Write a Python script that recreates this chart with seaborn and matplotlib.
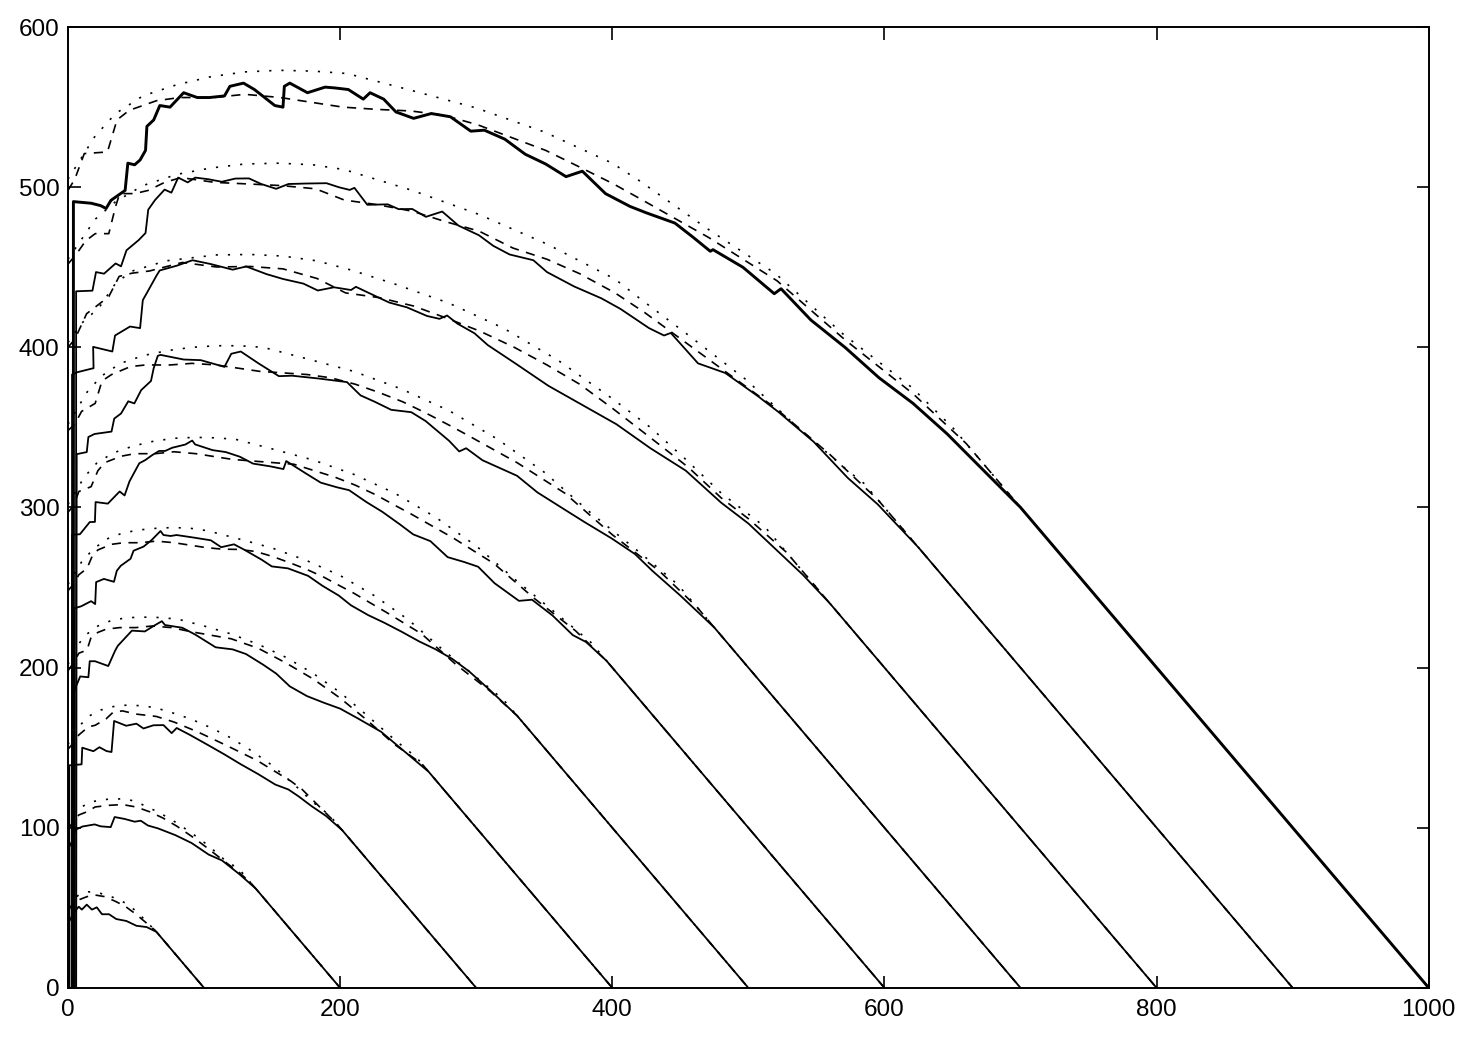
import matplotlib
matplotlib.use("Agg")
import matplotlib.pyplot as plt
import seaborn as sns
import pandas as pd

sns.set_style("ticks")
plt.rcParams["font.family"] = ["Liberation Sans", "DejaVu Sans"]

# ---------------- data ----------------
# N = 1000
dot1000_x = [0, 20, 35, 55, 80, 105, 130, 155, 180, 205, 250, 300, 350, 400, 420, 470, 520, 570, 620, 650, 1000]
dot1000_y = [505, 532, 546, 557, 564, 569, 572, 573, 572.5, 571, 561, 549.5, 534.5, 515, 504, 474, 446, 408, 375, 350, 0]
dash1000_x = [0, 5, 12, 29, 36, 45, 65, 82, 107, 130, 156, 202, 227, 252, 276, 301, 326, 351, 375, 401, 420, 471, 521, 571, 621, 660, 1000]
dash1000_y = [498, 505, 521, 522, 542, 548, 554, 556, 556, 558, 556, 550, 548.6, 547.6, 545, 539, 531, 523, 513, 502, 493, 468.5, 441.6, 404.7, 371, 340, 0]
sol1000_x = [4, 4, 17, 24, 28, 31.6, 42, 44, 49, 53, 57, 58, 63, 67.5, 75, 85, 95, 104, 115, 119, 129, 137, 152, 158, 159, 163,
             176, 189, 196, 206, 217, 222, 232, 241, 254, 267, 281, 296, 306, 321, 336, 351, 366, 378, 395, 413, 425, 446,
             459, 472, 474, 496, 519, 524, 546, 571, 596, 621, 646, 700, 1000]
sol1000_y = [0, 491, 490, 488.5, 486.7, 491.8, 498, 515, 514, 517, 523, 538, 542, 551, 550, 559, 556, 556, 557, 563, 565, 561,
             551, 550, 563, 565, 559, 562.5, 562, 561, 555, 559, 555, 547, 543, 546, 544, 535, 535.6, 530, 520.6, 514.5,
             506.6, 510, 496, 488, 484, 477.6, 469, 460, 461, 450, 433.5, 436.6, 417, 400, 381, 365, 346, 300, 0]

# N = 900
dot900_x = [0, 20, 35, 55, 80, 105, 130, 155, 180, 203, 253, 302, 352, 402, 421, 453, 498, 535, 573, 585, 900]
dot900_y = [455, 480, 491, 501, 508, 512, 514.5, 515, 514, 511, 498, 483, 464.5, 442.6, 430, 409.5, 380, 351, 323, 315, 0]
dash900_x = [0, 6, 13, 20, 30, 35, 38, 49, 59, 71, 83, 108, 133, 157, 182, 203, 228, 253, 277, 302, 327, 352, 376, 402,
             424, 470, 520, 560, 595, 900]
dash900_y = [452, 458, 466.5, 471, 471, 488, 496, 496, 498, 503, 506, 503, 502, 501, 499, 492, 489, 485, 478.6, 472.6,
             462, 455, 446, 434, 421.6, 393, 362, 333, 305, 0]
sol900_x = [6, 6, 18, 20.6, 26.5, 35, 39, 43, 52, 57, 59, 64, 71, 76, 81, 88, 93.5, 103, 113, 123, 133, 142, 153, 162,
            175, 190, 199, 207, 210.5, 220, 235, 243, 253, 263, 275, 287, 302, 312.5, 324.5, 342, 352, 372, 392, 406,
            427, 438, 443, 463, 483, 507, 522, 548, 573, 595, 625, 900]
sol900_y = [0, 435, 435.4, 447, 446, 452.4, 450.6, 460.6, 467, 471.4, 486, 492, 498.5, 496.6, 506, 503, 506, 505, 503.4,
            505.4, 505.5, 502, 499, 502, 502.3, 502.5, 500, 498.3, 499.6, 489, 489.3, 486.3, 486.4, 481.5, 484.8, 476,
            470, 463.4, 458, 454.4, 447, 438, 430.6, 424, 412, 407.4, 409, 390, 384, 369.5, 359.7, 341, 318.5, 302, 275, 0]

# N = 800
dot800_x = [0, 10, 23, 35, 47, 72, 109, 134, 158, 183, 208, 240, 280, 320, 360, 400, 428, 454, 480, 512, 800]
dot800_y = [403, 415, 425, 440, 447.6, 454, 457.7, 458, 457, 454, 448.3, 439.6, 427.6, 412, 392, 368, 350, 330, 309, 288, 0]
dash800_x = [0, 5, 13.7, 30, 37.6, 47, 60, 84, 109, 134, 158, 183, 204, 229, 254, 279, 303, 328, 352, 376, 400, 428,
             456, 480, 500, 528, 800]
dash800_y = [400, 405, 421, 431.7, 444.3, 446.3, 447.7, 453, 450.2, 450.5, 449, 443, 434, 431, 425.8, 418, 410, 400,
             389, 377, 362, 343.6, 325, 306, 293, 272, 0]
sol800_x = [3, 3, 7, 18.8, 18.5, 32.6, 34.6, 45.6, 53, 55, 58, 65, 67.4, 80, 91.5, 105, 121, 131, 146, 158, 173, 183.6,
            195.5, 208, 211.6, 221, 236, 249, 263.8, 273, 278.6, 286, 298.7, 308.5, 328.7, 353, 378, 403, 428, 454,
            480, 500, 540, 560, 800]
sol800_y = [0, 383, 384.5, 387, 400.3, 397.4, 407.4, 413, 412, 429.5, 434, 444.7, 448, 451, 454.4, 452, 448.5, 450.5,
            445.7, 442.7, 439.8, 435.5, 437.5, 435.8, 437.8, 434, 428, 425, 419.6, 417.8, 419.9, 414.9, 408.8, 401.4,
            390, 376, 364, 352, 337, 323, 303, 290, 258, 240, 0]

# N = 700
dot700_x = [0, 14, 24.5, 38.5, 56, 73.5, 91, 108.5, 126, 143.5, 175, 210, 245, 280, 315, 350, 385, 420, 448, 700]
dot700_y = [352, 372, 382, 390, 395, 398, 400, 401, 401, 400, 393, 385, 374, 360.5, 343, 322, 296, 272, 252, 0]
dash700_x = [0, 5, 10, 20, 25, 32, 46, 57, 75, 91, 109, 141, 159, 176, 193, 211, 228, 246, 263, 281, 294, 330, 365,
             400, 435, 462, 700]
dash700_y = [348, 352, 360, 365, 379, 383, 388, 389, 389, 390, 389, 385, 384, 383, 381, 377, 372, 366, 359, 351, 345,
             328, 309, 283, 260, 238, 0]
sol700_x = [6, 6.4, 13.8, 15, 19.5, 32, 34, 39, 44.3, 48.8, 53.8, 61, 63, 66, 68, 85, 97.6, 115, 120, 127, 140, 155,
            164.6, 184.6, 205, 215, 225.5, 237.5, 252.3, 262.8, 280, 287.5, 292.6, 304.6, 330, 345, 364.4, 379.4,
            399.5, 416.7, 429.5, 450, 475, 700]
sol700_y = [0, 333.3, 334.6, 344, 345.9, 347.4, 355.5, 358.7, 366.3, 365, 373.3, 379, 387, 394.7, 395.3, 392.4, 392,
            387.8, 396, 397.4, 390, 382, 382.3, 380.5, 378.3, 370, 366, 361, 359.5, 354, 341.7, 335, 337, 329.5, 319.8,
            309.4, 299, 291, 280.7, 270.9, 260.4, 245, 225, 0]

# N = 600
dot600_x = [0, 12, 21, 33, 48, 63, 78, 93, 108, 123, 150, 180, 210, 240, 270, 300, 330, 360, 384, 600]
dot600_y = [302, 319, 327.6, 334, 338.4, 341.4, 343.2, 343.8, 343.5, 342.6, 336.6, 329.7, 320.7, 309, 294, 276, 254,
            233, 216, 0]
dash600_x = [0, 4, 8, 17, 22, 27, 39, 49, 64, 78, 94, 121, 136, 151, 166, 181, 196, 211, 226, 241, 252, 283, 313,
             343, 373, 396, 600]
dash600_y = [297, 301, 310, 313, 323, 328, 332, 333.6, 333.6, 334.8, 333.6, 330, 329, 328, 327, 323, 319, 314, 308,
             301, 296, 281, 265, 243, 223, 204, 0]
sol600_x = [3, 3, 8.8, 16, 19.8, 20.3, 29.3, 35, 38, 41.6, 45.2, 52.4, 56.8, 61.9, 67, 71.4, 76.6, 86.2, 91.3, 93.4,
            106.3, 116, 126.3, 136, 148.6, 158.3, 160.4, 175.3, 185.8, 197.7, 206.6, 219.3, 231, 244, 253.7, 266.3,
            279, 291, 301.4, 313.5, 331.4, 341, 356, 371, 380.7, 395.7, 600]
sol600_y = [0, 283, 283.3, 290.9, 291, 303.4, 302.4, 307.4, 310, 307.5, 316.3, 327.6, 329.6, 332.7, 335.3, 335.3,
            337.3, 339.3, 341.8, 339.4, 335.8, 334.6, 331.7, 327.4, 325.7, 324, 329, 321, 315.5, 312.6, 310.8, 303.4,
            297.3, 289.4, 283.2, 279, 269, 266, 263, 252.7, 241.7, 242.4, 232.6, 220.3, 216, 204.3, 0]

# N = 500
dot500_x = [0, 10, 17.5, 27.5, 40, 52.5, 65, 77.5, 90, 102.5, 125, 150, 175, 200, 225, 250, 275, 300, 320, 500]
dot500_y = [252, 266, 273, 280, 284, 286, 287, 287.5, 287, 285.5, 280.5, 274.7, 267, 257.5, 245, 230, 211.5, 194, 180, 0]
dash500_x = [0, 4, 8, 14, 18, 22, 32, 41, 53, 65, 78, 101, 113, 126, 138, 150, 163, 175, 188, 200, 210, 235, 260,
             285, 310, 330, 500]
dash500_y = [248, 252, 258, 262, 270, 273.5, 277, 278, 278, 279, 278, 275, 274, 273.8, 272.5, 269.5, 265.5, 261.5,
             256.5, 251, 246.5, 234, 221, 202, 185.5, 170, 0]
sol500_x = [4.5, 4.5, 9.7, 17, 20, 20.7, 26.4, 33.8, 35.9, 38.8, 46, 48.2, 55.6, 61.4, 68, 70.2, 75.4, 79.8, 92.5,
            105, 112.6, 122, 129.6, 142.3, 149.8, 161.6, 176.5, 187, 199, 208, 220.6, 232.5, 245, 258, 270, 282.5,
            295, 310, 330, 500]
sol500_y = [0, 237, 238.3, 241.5, 239.7, 253.4, 255.4, 253.6, 260.5, 263.6, 268, 273, 275.6, 279.6, 285.3, 282.8,
            282.2, 282.8, 281.2, 279.5, 275.2, 277, 273.6, 267.4, 263.2, 262, 257.3, 251.1, 245, 238.9, 232.8, 228,
            222.5, 216.4, 211.5, 205.4, 197.5, 186, 170, 0]

# N = 400
dot400_x = [0, 8, 14, 22, 32, 42, 52, 62, 72, 82, 100, 120, 140, 160, 180, 200, 220, 240, 256, 400]
dot400_y = [202, 215, 221, 226, 229.5, 231, 231.5, 231.5, 231, 230, 226, 221, 214.5, 206.5, 196.5, 184.5, 170, 155, 144, 0]
dash400_x = [0, 4, 8, 14, 17, 22, 28, 38, 50, 62, 76, 90, 100, 120, 140, 160, 180, 200, 220, 240, 260, 400]
dash400_y = [198, 203, 209, 211, 219, 222, 224, 225, 225, 226, 225, 222.5, 221, 218, 212, 203, 193, 181, 167, 152, 140, 0]
sol400_x = [3.3, 3.3, 9, 15, 16, 19.9, 29.6, 34.6, 36.6, 47, 56.5, 63.9, 69, 71.3, 84, 93.6, 108.5, 121, 130.8, 143.5,
            153, 163, 175.7, 188.3, 200, 213, 230, 244, 265, 400]
sol400_y = [0, 183, 194.5, 194, 204, 204, 201, 210.5, 213.6, 223.1, 222.6, 226.5, 229, 226.6, 224.9, 220.6, 212.7,
            211.4, 208.5, 201.8, 196.3, 188.3, 182.2, 178, 174.4, 168.3, 160, 150, 135, 0]

# N = 300
dot300_x = [0, 5, 10, 16, 24, 32, 40, 48, 56, 64, 76, 90, 105, 120, 135, 150, 165, 180, 192, 300]
dot300_y = [152, 160, 165, 170, 173.5, 175.5, 176.5, 176.5, 176, 175, 172, 168, 162.5, 156, 148, 139, 128, 116, 108, 0]
dash300_x = [0, 4, 8, 15, 20, 28, 33, 40, 50, 65, 78, 95, 115, 139, 164, 172, 185, 198, 300]
dash300_y = [149, 153, 158, 163, 164, 168, 172, 173, 171, 169.5, 166, 160, 152, 142, 129, 124, 113, 102, 0]
sol300_x = [1, 1, 10, 10.5, 18.7, 23.1, 28.3, 32, 33.9, 42.8, 50.3, 55.5, 62.8, 70.2, 76.2, 79.9, 89.6, 102.2, 115,
            126.9, 139.6, 152.3, 162, 169.5, 179, 189.6, 201.6, 214, 300]
sol300_y = [0, 139, 139.6, 150, 147.8, 150.3, 147.9, 147.3, 166.7, 163.7, 165, 162, 164, 164.1, 159.1, 162.3, 158, 152,
            145.8, 139.7, 133.6, 127, 123.9, 119.6, 113.5, 107.4, 98.4, 86, 0]

# N = 200
dot200_x = [0, 4, 10, 16.4, 25, 33, 41.5, 50, 58, 66, 80, 92, 103, 115, 126, 200]
dot200_y = [102, 109, 113, 116, 117.5, 118, 118, 116.5, 113, 110, 103, 96, 89, 80, 74, 0]
dash200_x = [0, 4, 8, 14, 20, 30, 40, 50, 60, 70, 80, 92, 103, 115, 126, 135, 200]
dash200_y = [99, 104, 108, 110, 113, 114, 114.5, 113, 110, 106, 101, 94, 87, 79, 72, 65, 0]
sol200_x = [1, 1, 3.5, 5.6, 10.7, 19.6, 24, 31.4, 34.3, 41.7, 49, 53.5, 58.8, 66.2, 78.9, 90.8, 103.5, 113.2, 126,
            138, 200]
sol200_y = [0, 88, 92.6, 98.8, 100.8, 102.1, 100.9, 100.4, 106.7, 105.5, 103.8, 104.4, 101.4, 99.6, 95.4, 90.5, 83.2,
            79.6, 71, 62, 0]

# N = 100
dot100_x = [0, 3, 8, 15, 22, 30, 38, 45, 52, 58, 64, 100]
dot100_y = [52, 55, 58, 60, 59.5, 57.5, 55, 51.5, 46.5, 41, 36, 0]
dash100_x = [0, 3, 8, 14, 20, 27, 35, 42, 50, 57, 64, 100]
dash100_y = [48, 52, 55, 57, 58, 57, 54, 51, 46, 41, 36, 0]
sol100_x = [0.7, 0.7, 4.3, 7.9, 10.2, 13.8, 17.6, 21.2, 25, 30.2, 35.5, 42.9, 50.3, 57.8, 65, 100]
sol100_y = [0, 41.3, 47, 50.7, 48.9, 52, 48.9, 50.3, 46, 46, 43, 41.8, 38.8, 38, 35, 0]

x_ticks = [0, 200, 400, 600, 800, 1000]
y_ticks = [0, 100, 200, 300, 400, 500, 600]

curves = [
    (1000, "dotted", dot1000_x, dot1000_y), (1000, "dashed", dash1000_x, dash1000_y), (1000, "solid", sol1000_x, sol1000_y),
    (900, "dotted", dot900_x, dot900_y), (900, "dashed", dash900_x, dash900_y), (900, "solid", sol900_x, sol900_y),
    (800, "dotted", dot800_x, dot800_y), (800, "dashed", dash800_x, dash800_y), (800, "solid", sol800_x, sol800_y),
    (700, "dotted", dot700_x, dot700_y), (700, "dashed", dash700_x, dash700_y), (700, "solid", sol700_x, sol700_y),
    (600, "dotted", dot600_x, dot600_y), (600, "dashed", dash600_x, dash600_y), (600, "solid", sol600_x, sol600_y),
    (500, "dotted", dot500_x, dot500_y), (500, "dashed", dash500_x, dash500_y), (500, "solid", sol500_x, sol500_y),
    (400, "dotted", dot400_x, dot400_y), (400, "dashed", dash400_x, dash400_y), (400, "solid", sol400_x, sol400_y),
    (300, "dotted", dot300_x, dot300_y), (300, "dashed", dash300_x, dash300_y), (300, "solid", sol300_x, sol300_y),
    (200, "dotted", dot200_x, dot200_y), (200, "dashed", dash200_x, dash200_y), (200, "solid", sol200_x, sol200_y),
    (100, "dotted", dot100_x, dot100_y), (100, "dashed", dash100_x, dash100_y), (100, "solid", sol100_x, sol100_y),
]

# ---------------- drawing ----------------
fig = plt.figure(figsize=(14.68, 10.41), dpi=100)
ax = fig.add_axes([0.0463, 0.051, 0.927, 0.923])

for n, kind, xs, ys in curves:
    df = pd.DataFrame({"x": xs, "y": ys})
    if kind == "solid":
        lw = 2.1 if n == 1000 else 1.3
        sns.lineplot(data=df, x="x", y="y", ax=ax, color="black", linewidth=lw,
                     estimator=None, sort=False)
    elif kind == "dashed":
        line = sns.lineplot(data=df, x="x", y="y", ax=ax, color="black", linewidth=1.2,
                            estimator=None, sort=False)
        line.lines[-1].set_dashes((5.5, 4.5))
    else:
        line = sns.lineplot(data=df, x="x", y="y", ax=ax, color="black", linewidth=1.2,
                            estimator=None, sort=False)
        line.lines[-1].set_dashes((1.3, 6.0))

ax.set_xlim(0, 1000)
ax.set_ylim(0, 600)
ax.set_xticks(x_ticks)
ax.set_yticks(y_ticks)
ax.set_xlabel("")
ax.set_ylabel("")
for s in ax.spines.values():
    s.set_visible(True)
    s.set_linewidth(1.4)
    s.set_color("black")
ax.tick_params(axis="both", which="major", direction="in", length=9, width=1.2,
               top=True, right=True, labelsize=17.5, colors="black")
ax.tick_params(axis="x", pad=8)
ax.tick_params(axis="y", pad=6)

fig.savefig("out.png", dpi=100, facecolor="white")
